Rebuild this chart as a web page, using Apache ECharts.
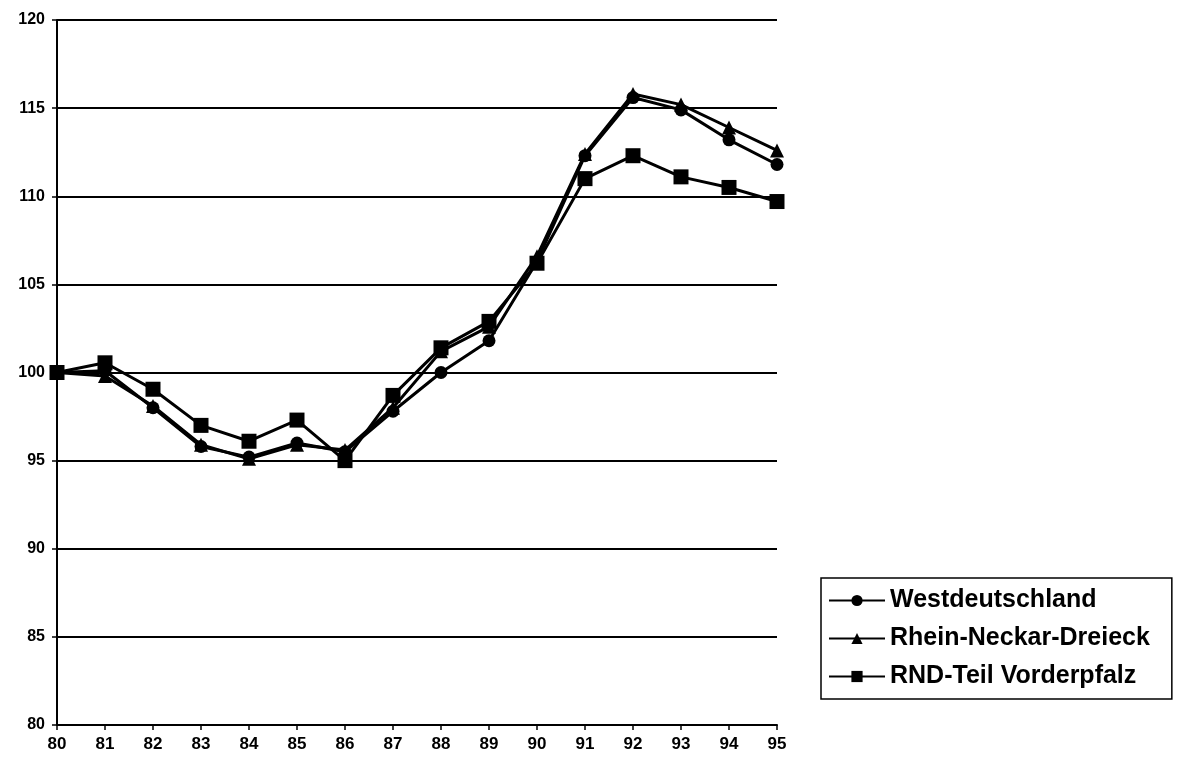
<!DOCTYPE html>
<html>
<head>
<meta charset="utf-8">
<script src="https://cdn.jsdelivr.net/npm/echarts@6/dist/echarts.min.js"></script>
<style>
html,body{margin:0;padding:0;background:#fff;}
#chart{width:1179px;height:765px;}
</style>
</head>
<body>
<div id="chart"></div>
<script>
const years = ['80','81','82','83','84','85','86','87','88','89','90','91','92','93','94','95'];
const westdeutschland = [100, 100.1, 98.0, 95.8, 95.2, 96.0, 95.5, 97.8, 100.0, 101.8, 106.3, 112.3, 115.6, 114.9, 113.2, 111.8];
const rheinNeckar = [100, 99.8, 98.1, 95.9, 95.1, 95.9, 95.6, 98.0, 101.2, 102.6, 106.6, 112.4, 115.8, 115.2, 113.9, 112.6];
const rndVorderpfalz = [100, 100.55, 99.05, 97.0, 96.1, 97.3, 95.0, 98.7, 101.4, 102.9, 106.2, 111.0, 112.3, 111.1, 110.5, 109.7];
const seriesNames = ['Westdeutschland', 'Rhein-Neckar-Dreieck', 'RND-Teil Vorderpfalz'];

const chart = echarts.init(document.getElementById('chart'));
const lineStyle = {color: '#000', width: 3};
function mk(name, data, symbol, size) {
  return {
    name: name, type: 'line', data: data, symbol: symbol, symbolSize: size,
    lineStyle: lineStyle, itemStyle: {color: '#000'}, animation: false
  };
}
chart.setOption({
  animation: false,
  backgroundColor: '#fff',
  grid: {left: 57, right: 402, top: 20, bottom: 40},
  xAxis: {
    type: 'category', data: years, boundaryGap: false,
    axisLine: {lineStyle: {color: '#000', width: 2}},
    axisTick: {show: true, length: 5, lineStyle: {color: '#000', width: 1.5}},
    axisLabel: {color: '#000', fontFamily: '"Liberation Sans Narrow", "Liberation Sans", Arial', fontWeight: 'bold', fontSize: 17, margin: 11}
  },
  yAxis: {
    type: 'value', min: 80, max: 120, interval: 5,
    axisLine: {show: true, lineStyle: {color: '#000', width: 2}},
    axisTick: {show: true, length: 5, lineStyle: {color: '#000', width: 1.5}},
    splitLine: {lineStyle: {color: '#000', width: 2}},
    axisLabel: {color: '#000', fontFamily: '"Liberation Sans", Arial', fontWeight: 'bold', fontSize: 16, margin: 12}
  },
  legend: {
    orient: 'vertical', left: 821, top: 578,
    data: seriesNames,
    borderColor: '#000', borderWidth: 1.5, borderRadius: 0,
    padding: [10, 22, 10, 7], itemGap: 13,
    itemWidth: 56, itemHeight: 14,
    textStyle: {color: '#000', fontFamily: '"Liberation Sans", Arial', fontWeight: 'bold', fontSize: 25}
  },
  series: [
    mk(seriesNames[0], westdeutschland, 'circle', 13),
    mk(seriesNames[1], rheinNeckar, 'triangle', 14),
    mk(seriesNames[2], rndVorderpfalz, 'rect', 15)
  ]
});
</script>
</body>
</html>
